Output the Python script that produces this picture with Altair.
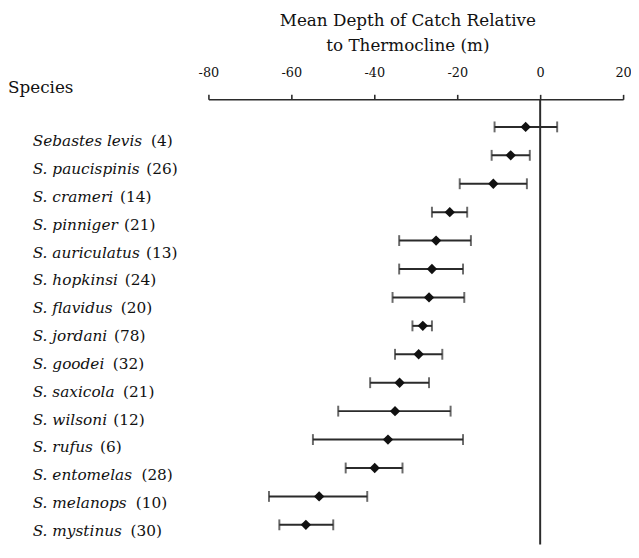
import altair as alt
import pandas as pd

# ---- data ----
species = ["Sebastes levis", "S. paucispinis", "S. crameri", "S. pinniger",
           "S. auriculatus", "S. hopkinsi", "S. flavidus", "S. jordani",
           "S. goodei", "S. saxicola", "S. wilsoni", "S. rufus",
           "S. entomelas", "S. melanops", "S. mystinus"]
counts = [4, 26, 14, 21, 13, 24, 20, 78, 32, 21, 12, 6, 28, 10, 30]
means = [-3.5, -7.1, -11.3, -21.8, -25.1, -26.1, -26.8, -28.3, -29.3,
         -33.9, -35.0, -36.7, -39.9, -53.3, -56.5]
lows = [-11.0, -11.7, -19.4, -26.1, -34.0, -34.0, -35.6, -30.8, -35.0,
        -41.0, -48.7, -54.8, -46.9, -65.4, -62.9]
highs = [4.1, -2.5, -3.2, -17.6, -16.7, -18.6, -18.3, -26.1, -23.6,
         -26.8, -21.6, -18.6, -33.2, -41.7, -49.9]
tick_values = [-80, -60, -40, -20, 0, 20]
zero_line = [0]
header = ["Species"]
title_lines = ["Mean Depth of Catch Relative", "to Thermocline (m)"]

# ---- layout constants ----
W, H = 420, 451
FONT = "DejaVu Serif"
NAME_FS = 15.5
NAME_X = -178
GAP = 9
INK = "#2b2b2b"

# approximate DejaVu advance widths (per 2048 em) to place the upright count after the italic name
ITALIC_W = {" ": 651, ".": 651, "S": 1300, "a": 1255, "b": 1300, "c": 1126, "d": 1300,
            "e": 1260, "f": 721, "g": 1300, "h": 1298, "i": 569, "j": 569, "k": 1186,
            "l": 569, "m": 1995, "n": 1298, "o": 1253, "p": 1300, "q": 1300, "r": 842,
            "s": 1067, "t": 803, "u": 1298, "v": 1212, "w": 1675, "x": 1212, "y": 1212,
            "z": 1075}


def italic_width(s):
    return sum(ITALIC_W.get(ch, 1250) for ch in s) / 2048.0 * NAME_FS


df = pd.DataFrame({"species": species, "n": counts, "mean": means,
                   "lo": lows, "hi": highs})
df["count_label"] = ["(%d)" % c for c in counts]
df["count_x"] = [NAME_X + italic_width(s) + GAP for s in species]

x_scale = alt.Scale(domain=[-80, 20], nice=False, zero=False)
y_pts = alt.Y("species:N", sort=species, axis=None,
              scale=alt.Scale(type="point", padding=0.833, align=0.583))
y_lab = alt.Y("species:N", sort=species, axis=None,
              scale=alt.Scale(type="point", padding=1.095, align=0.754))

x_axis = alt.Axis(orient="top", values=tick_values, title=None, grid=False,
                  domainColor=INK, domainWidth=1.6, tickColor=INK, tickWidth=1.6,
                  tickSize=5, labelFont=FONT, labelFontSize=13, labelColor="#111",
                  labelPadding=15, labelExpr="'' + datum.value",
                  labelFlush=False, labelOverlap=False)

base = alt.Chart(df)

bars = base.mark_rule(strokeWidth=2, color=INK).encode(
    x=alt.X("lo:Q", scale=x_scale, axis=x_axis), x2="hi:Q", y=y_pts)
cap_lo = base.mark_tick(size=11, thickness=2, color=INK).encode(
    x=alt.X("lo:Q", scale=x_scale), y=y_pts)
cap_hi = base.mark_tick(size=11, thickness=2, color=INK).encode(
    x=alt.X("hi:Q", scale=x_scale), y=y_pts)
pts = base.mark_point(shape="diamond", filled=True, size=110, color="#111",
                      opacity=1).encode(x=alt.X("mean:Q", scale=x_scale), y=y_pts)
zero = alt.Chart(pd.DataFrame({"z": zero_line})).mark_rule(
    strokeWidth=2, color=INK).encode(
    x=alt.X("z:Q", scale=x_scale), y=alt.value(0), y2=alt.value(H))

plot_layer = alt.layer(zero, bars, cap_lo, cap_hi, pts)

names = base.mark_text(align="left", baseline="middle", font=FONT,
                       fontStyle="italic", fontSize=NAME_FS, color="#111").encode(
    x=alt.value(NAME_X), y=y_lab, text="species:N")
nums = base.mark_text(align="left", baseline="middle", font=FONT,
                      fontSize=NAME_FS, color="#111").encode(
    x=alt.X("count_x:Q", scale=None), y=y_lab, text="count_label:N")
head = alt.Chart(pd.DataFrame({"h": header})).mark_text(
    align="left", baseline="alphabetic", font=FONT, fontSize=17,
    color="#111").encode(x=alt.value(-203), y=alt.value(-6), text="h:N")

label_layer = alt.layer(names, nums, head)

chart = alt.layer(plot_layer, label_layer).resolve_scale(
    y="independent", x="independent"
).properties(
    width=W, height=H,
    padding={"left": 203, "top": 89, "right": 8, "bottom": 0},
    autosize=alt.AutoSizeParams(type="none"),
    title=alt.TitleParams(title_lines, font=FONT, fontSize=17, fontWeight="normal",
                          color="#111", anchor="middle", dx=-8, lineHeight=25.6,
                          offset=12),
    background="white",
).configure_view(stroke=None)

chart.save("out.html", embed_options={"renderer": "svg", "actions": False})
